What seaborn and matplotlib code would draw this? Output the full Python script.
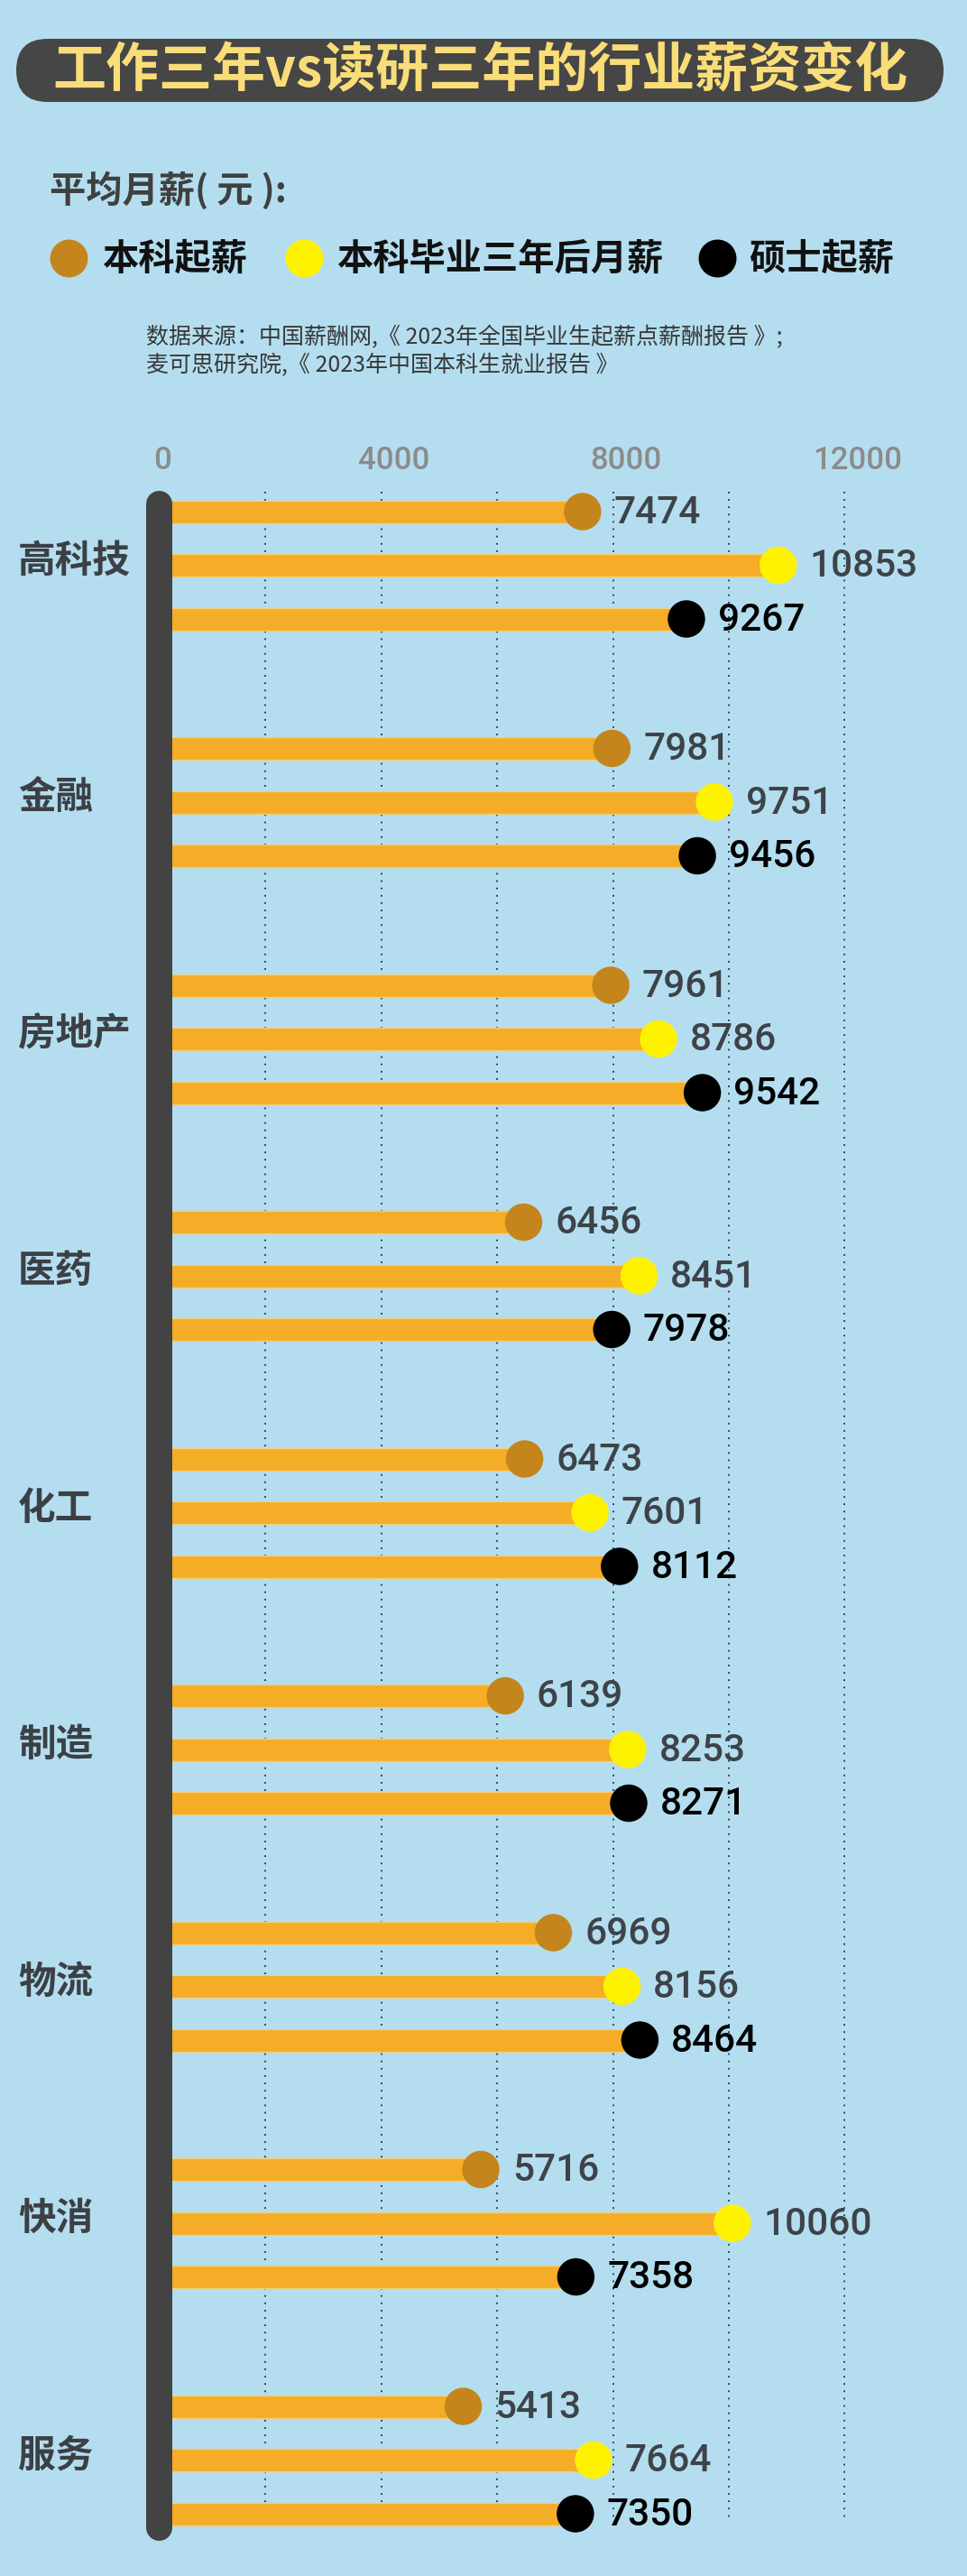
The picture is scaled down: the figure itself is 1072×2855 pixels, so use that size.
import numpy as np
import pandas as pd
import matplotlib
matplotlib.use("Agg")
import matplotlib.pyplot as plt
import seaborn as sns
from matplotlib.patches import FancyBboxPatch

# ---------------- data ----------------
industries = ["高科技", "金融", "房地产", "医药", "化工", "制造", "物流", "快消", "服务"]
series_names = ["本科起薪", "本科毕业三年后月薪", "硕士起薪"]
bachelor_start = [7474, 7981, 7961, 6456, 6473, 6139, 6969, 5716, 5413]
bachelor_3yr = [10853, 9751, 8786, 8451, 7601, 8253, 8156, 10060, 7664]
master_start = [9267, 9456, 9542, 7978, 8112, 8271, 8464, 7358, 7350]
tick_values = [0, 4000, 8000, 12000]
tick_labels = ["0", "4000", "8000", "12000"]
grid_values = [2000, 4000, 6000, 8000, 10000, 12000]

title_text = "工作三年vs读研三年的行业薪资变化"
legend_title = "平均月薪( 元 ):"
source_lines = ["数据来源：中国薪酬网,《 2023年全国毕业生起薪点薪酬报告 》;",
                "麦可思研究院,《 2023年中国本科生就业报告 》"]

# ---------------- style ----------------
BG = "#B4DEEF"
BAR = "#F5AC26"
BAR_EDGE = "#F0CF7A"
AXIS = "#434343"
PILL = "#464646"
TITLE_C = "#F9DD78"
TICK_C = "#8B8B8B"
GRID_C = "#1E3246"
LABEL_C = "#3C4045"
VAL_C = "#3D4349"
palette = {"本科起薪": "#C4851C", "本科毕业三年后月薪": "#FFF200", "硕士起薪": "#000000"}
value_colors = {"本科起薪": VAL_C, "本科毕业三年后月薪": VAL_C, "硕士起薪": "#000000"}

sns.set_theme(style="white")
CJK = ["Noto Sans CJK SC", "DejaVu Sans"]
NUM = ["Roboto", "Liberation Sans", "DejaVu Sans"]
plt.rcParams["font.family"] = CJK

W, H = 1072, 2855
X0_PX = 166.0          # pixel position of value 0
PPU = 0.0642           # pixels per salary unit
GROUP_START = 567.0    # y of first bar of first group (px)
GROUP_PITCH = 262.5
BAR_PITCH = 59.5


def px2x(px):
    return (px - X0_PX) / PPU


fig = plt.figure(figsize=(W / 100, H / 100), dpi=100)
fig.patch.set_facecolor(BG)

# pixel overlay axes for decorations
axp = fig.add_axes([0, 0, 1, 1], zorder=0)
axp.set_xlim(0, W)
axp.set_ylim(H, 0)
axp.axis("off")

# data axes
ax = fig.add_axes([0, 0, 1, 1], zorder=1)
ax.patch.set_alpha(0)

# long data frame
rows = []
for i, ind in enumerate(industries):
    for j, (name, vals) in enumerate(zip(series_names, [bachelor_start, bachelor_3yr, master_start])):
        rows.append({"industry": ind, "series": name, "value": vals[i],
                     "y": GROUP_START + GROUP_PITCH * i + BAR_PITCH * j})
df = pd.DataFrame(rows)

# dotted grid
for g in grid_values:
    ax.plot([g, g], [545, 2790], color=GRID_C, lw=1.3, linestyle=(0, (1, 3.5)), zorder=1)

# bars
sns.barplot(data=df, x="value", y="y", orient="h", native_scale=True,
            width=25 / BAR_PITCH, color=BAR, edgecolor=BAR_EDGE, linewidth=1.0,
            saturation=1, errorbar=None, ax=ax, zorder=3)

# end markers
sns.scatterplot(data=df, x="value", y="y", hue="series", palette=palette,
                s=890, linewidth=0, legend=False, ax=ax, zorder=5)

# value labels
for _, r in df.iterrows():
    ax.annotate(f"{r['value']}", (r["value"], r["y"]), xytext=(25, -1),
                textcoords="offset points", ha="left", va="center",
                fontsize=30.5, fontweight="medium", family=NUM,
                color=value_colors[r["series"]], zorder=6)

# vertical axis bar
axis_val = px2x(175.5)
ax.plot([axis_val, axis_val], [557.5, 2800.5], lw=29 * 0.72, color=AXIS,
        solid_capstyle="round", zorder=7)

# top tick labels
for v, lab in zip(tick_values, tick_labels):
    ax.annotate(lab, (v, 511), xytext=(10, 0), textcoords="offset points",
                ha="center", va="center", fontsize=25, color=TICK_C, family=NUM,
                fontweight="medium")

ax.set_xlim(px2x(0), px2x(W))
ax.set_ylim(H, 0)
ax.axis("off")

# category labels
for i, ind in enumerate(industries):
    ymid = GROUP_START + GROUP_PITCH * i + BAR_PITCH
    axp.text(20, ymid - 5, ind, ha="left", va="center", fontsize=30,
             fontweight="bold", color=LABEL_C, family=CJK)

# title pill
pill = FancyBboxPatch((18, 43), 1028, 70, boxstyle="round,pad=0,rounding_size=35",
                      facecolor=PILL, edgecolor="none", zorder=2)
axp.add_patch(pill)
axp.text(532, 79, title_text, ha="center", va="center", fontsize=42.5,
         fontweight="heavy", color=TITLE_C, family=CJK, zorder=3)

# legend
axp.text(55, 212, legend_title, ha="left", va="center", fontsize=29,
         fontweight="bold", color="#404040", family=CJK)
leg_circle_x = [76, 337, 795]
leg_text_x = [113, 373, 830]
for name, cx, tx in zip(series_names, leg_circle_x, leg_text_x):
    axp.scatter([cx], [286], s=912, color=palette[name], linewidths=0, zorder=3)
    axp.text(tx, 287, name, ha="left", va="center", fontsize=29,
             fontweight="heavy", color="#111111", family=CJK)

# source
for k, line in enumerate(source_lines):
    axp.text(162, 374 + 31 * k, line, ha="left", va="center", fontsize=18,
             color="#383838", family=CJK)

fig.savefig("out.png", dpi=100, facecolor=BG)
